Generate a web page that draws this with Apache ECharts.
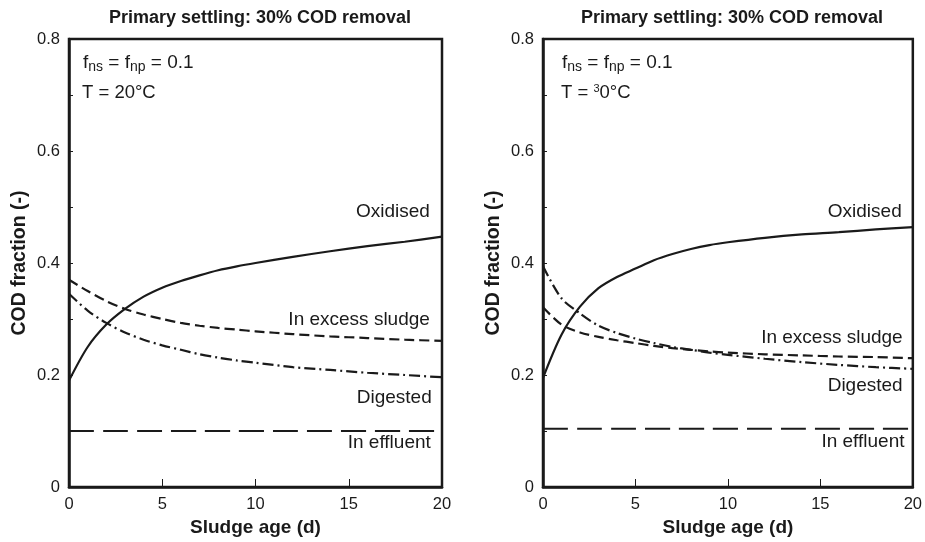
<!DOCTYPE html>
<html>
<head>
<meta charset="utf-8">
<script src="https://cdn.jsdelivr.net/npm/echarts@6/dist/echarts.min.js"></script>
<style>
  html, body { margin: 0; padding: 0; background: #fff; }
  #chart { width: 925px; height: 542px; }
</style>
</head>
<body>
<div id="chart"></div>
<script>
// sludge age (d)
var sludgeAge = [0, 1, 2, 3, 4, 5, 6, 7, 8, 9, 10, 12, 14, 16, 18, 20];

// left panel, T = 20°C
var oxidised20   = [0.19, 0.25, 0.29, 0.318, 0.34, 0.356, 0.368, 0.378, 0.387, 0.394, 0.40, 0.411, 0.421, 0.43, 0.438, 0.447];
var excess20     = [0.37, 0.35, 0.332, 0.318, 0.308, 0.30, 0.293, 0.288, 0.284, 0.281, 0.278, 0.273, 0.269, 0.266, 0.263, 0.261];
var digested20   = [0.345, 0.315, 0.293, 0.276, 0.263, 0.253, 0.245, 0.237, 0.231, 0.226, 0.222, 0.214, 0.209, 0.204, 0.200, 0.196];
var effluent20   = [0.1, 0.1, 0.1, 0.1, 0.1, 0.1, 0.1, 0.1, 0.1, 0.1, 0.1, 0.1, 0.1, 0.1, 0.1, 0.1];

// right panel
var oxidised30   = [0.195, 0.272, 0.322, 0.355, 0.375, 0.39, 0.405, 0.416, 0.425, 0.432, 0.437, 0.445, 0.451, 0.455, 0.46, 0.464];
var excess30     = [0.321, 0.29, 0.276, 0.268, 0.262, 0.257, 0.252, 0.248, 0.245, 0.242, 0.240, 0.237, 0.235, 0.233, 0.232, 0.230];
var digested30   = [0.394, 0.337, 0.31, 0.288, 0.275, 0.265, 0.257, 0.25, 0.245, 0.24, 0.236, 0.229, 0.223, 0.218, 0.214, 0.211];
var effluent30   = [0.104, 0.104, 0.104, 0.104, 0.104, 0.104, 0.104, 0.104, 0.104, 0.104, 0.104, 0.104, 0.104, 0.104, 0.104, 0.104];

var panelTitle = 'Primary settling: 30% COD removal';
var xTitle = 'Sludge age (d)';
var yTitle = 'COD fraction (-)';
var curveNames = ['Oxidised', 'In excess sludge', 'Digested', 'In effluent'];
// label anchors (right end of text) [sludge age, fraction] per panel
var labelPos20 = [[19.35, 0.491], [19.35, 0.299], [19.45, 0.16], [19.4, 0.079]];
var labelPos30 = [[19.4, 0.491], [19.45, 0.266], [19.45, 0.181], [19.55, 0.081]];

var FONT = '"Liberation Sans", Arial, Helvetica, sans-serif';
var INK = '#1a1a1a';

function pairs(ys) {
    return sludgeAge.map(function (x, i) { return [x, ys[i]]; });
}

function xAxisFor(idx) {
    return {
        type: 'value', gridIndex: idx, min: 0, max: 20, interval: 5,
        name: xTitle, nameLocation: 'middle', nameGap: 30,
        nameTextStyle: { fontFamily: FONT, fontSize: 19, fontWeight: 'bold', color: INK },
        axisLine: { show: true, lineStyle: { color: INK, width: 2.5 } },
        axisTick: { show: true, inside: true, length: 8, lineStyle: { color: INK, width: 1 } },
        axisLabel: { fontFamily: FONT, fontSize: 16.5, color: INK, margin: 9 },
        splitLine: { show: false }
    };
}

function yAxisFor(idx) {
    return {
        type: 'value', gridIndex: idx, min: 0, max: 0.8, interval: 0.1,
        name: yTitle, nameLocation: 'middle', nameGap: 39, nameRotate: 90,
        nameTextStyle: { fontFamily: FONT, fontSize: 19.5, fontWeight: 'bold', color: INK },
        axisLine: { show: true, lineStyle: { color: INK, width: 2.5 } },
        axisTick: { show: true, inside: true, length: 4, lineStyle: { color: INK, width: 1 } },
        axisLabel: {
            fontFamily: FONT, fontSize: 16.5, color: INK, margin: 9,
            formatter: function (v) {
                var k = Math.round(v * 10);
                if (k % 2) return '';
                return k === 0 ? '0' : (k / 10).toFixed(1);
            }
        },
        splitLine: { show: false }
    };
}

function curve(idx, name, ys, dash, pos) {
    return {
        type: 'line', name: name, xAxisIndex: idx, yAxisIndex: idx,
        data: pairs(ys), smooth: 0.3, showSymbol: false, symbol: 'none',
        lineStyle: { color: INK, width: 2.2, type: dash },
        markPoint: {
            symbol: 'circle', symbolSize: 0, silent: true,
            label: {
                show: true, formatter: name, position: 'inside', align: 'right',
                fontFamily: FONT, fontSize: 19, color: INK
            },
            data: [{ coord: pos }]
        },
        z: 3
    };
}

function panelSeries(idx, ox, ex, dg, ef, pos) {
    return [
        curve(idx, curveNames[0], ox, 'solid', pos[0]),
        curve(idx, curveNames[1], ex, [10, 5], pos[1]),
        curve(idx, curveNames[2], dg, [11, 4, 2, 4], pos[2]),
        curve(idx, curveNames[3], ef, [25, 9], pos[3])
    ];
}

function noteBlock(left, tempText) {
    return [
        {
            type: 'text', left: left, top: 53,
            style: {
                text: 'f{s|ns} = f{s|np} = 0.1',
                fontFamily: FONT, fontSize: 19, fill: INK,
                rich: { s: { fontFamily: FONT, fontSize: 14, fill: INK, verticalAlign: 'bottom', padding: [9, 0, 0, 0] } }
            }
        },
        {
            type: 'text', left: left - 1, top: 83,
            style: { text: tempText, fontFamily: FONT, fontSize: 18.5, fill: INK,
                     rich: { u: { fontFamily: FONT, fontSize: 11, fill: INK, verticalAlign: 'top', padding: [0, 0, 7, 0] } } }
        }
    ];
}

var myChart = echarts.init(document.getElementById('chart'));
var option = {
    backgroundColor: '#fff',
    animation: false,
    title: [
        { text: panelTitle, left: 255, top: 4, textAlign: 'center',
          textStyle: { fontFamily: FONT, fontSize: 18, fontWeight: 'bold', color: INK } },
        { text: panelTitle, left: 727, top: 4, textAlign: 'center',
          textStyle: { fontFamily: FONT, fontSize: 18, fontWeight: 'bold', color: INK } }
    ],
    grid: [
        { left: 69, right: 483, top: 39, bottom: 55, show: true, borderColor: INK, borderWidth: 2.5, backgroundColor: 'transparent' },
        { left: 543, right: 9, top: 39, bottom: 55, show: true, borderColor: INK, borderWidth: 2.5, backgroundColor: 'transparent' }
    ],
    xAxis: [xAxisFor(0), xAxisFor(1)],
    yAxis: [yAxisFor(0), yAxisFor(1)],
    graphic: noteBlock(83, 'T = 20°C').concat(noteBlock(562, 'T = {u|3}0°C')),
    series: panelSeries(0, oxidised20, excess20, digested20, effluent20, labelPos20)
        .concat(panelSeries(1, oxidised30, excess30, digested30, effluent30, labelPos30))
};
myChart.setOption(option);
</script>
</body>
</html>
